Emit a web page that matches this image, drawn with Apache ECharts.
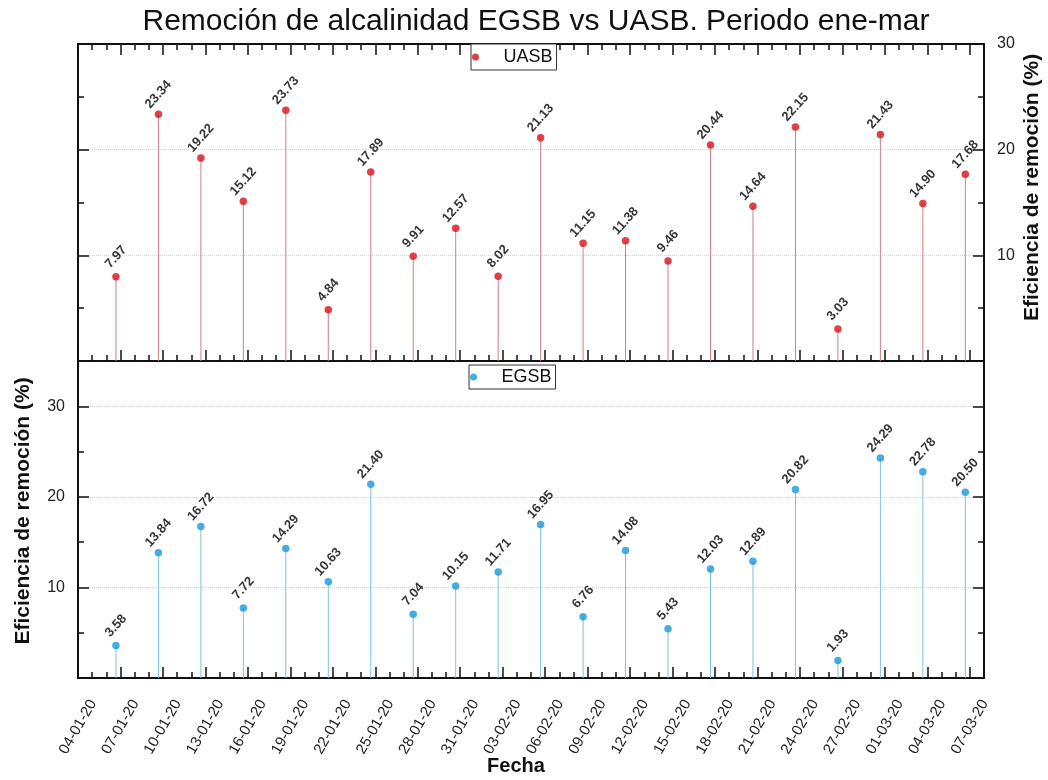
<!DOCTYPE html>
<html>
<head>
<meta charset="utf-8">
<title>Remoción de alcalinidad EGSB vs UASB</title>
<script src="https://cdn.jsdelivr.net/npm/echarts@6.0.0/dist/echarts.min.js"></script>
<style>
  html, body { margin: 0; padding: 0; background: #fff; }
  #main { width: 1048px; height: 780px; }
</style>
</head>
<body>
<div id="main"></div>
<script>
  // fechas de muestreo (hora aproximada), una muestra cada 3 dias
  const fechas = [
    '2020-01-06T16:20', '2020-01-09T16:20', '2020-01-12T16:20', '2020-01-15T16:20',
    '2020-01-18T16:20', '2020-01-21T16:20', '2020-01-24T16:20', '2020-01-27T16:20',
    '2020-01-30T16:20', '2020-02-02T16:20', '2020-02-05T16:20', '2020-02-08T16:20',
    '2020-02-11T16:20', '2020-02-14T16:20', '2020-02-17T16:20', '2020-02-20T16:20',
    '2020-02-23T16:20', '2020-02-26T16:20', '2020-02-29T16:20', '2020-03-03T16:20',
    '2020-03-06T16:20'
  ];
  // eficiencia de remocion (%)
  const uasb = [7.97, 23.34, 19.22, 15.12, 23.73, 4.84, 17.89, 9.91, 12.57, 8.02, 21.13,
                11.15, 11.38, 9.46, 20.44, 14.64, 22.15, 3.03, 21.43, 14.90, 17.68];
  const egsb = [3.58, 13.84, 16.72, 7.72, 14.29, 10.63, 21.40, 7.04, 10.15, 11.71, 16.95,
                6.76, 14.08, 5.43, 12.03, 12.89, 20.82, 1.93, 24.29, 22.78, 20.50];
  // eje x: dias desde el 04-01-20
  const inicio = '2020-01-04T00:00';
  const diasEje = 64;
  const ticksY = [10, 20, 30];
  const ticksYmenor = [5, 15, 25];

  const DIA = 86400000;
  const t0 = new Date(inicio).getTime();
  function dia(f) { return (new Date(f).getTime() - t0) / DIA; }
  function etiquetaFecha(v) {
    const d = new Date(t0 + Math.round(v) * DIA);
    const dd = String(d.getDate()).padStart(2, '0');
    const mm = String(d.getMonth() + 1).padStart(2, '0');
    return dd + '-' + mm + '-' + String(d.getFullYear()).slice(2);
  }

  const majorX = [], minorX = [];
  for (let i = 0; i <= diasEje; i++) {
    if (i % 3 === 0) majorX.push(i); else if (i < 63) minorX.push(i);
  }

  const font = 'Liberation Sans, Arial, sans-serif';
  const negro = '#111';

  function ejeX(grid, pos, menor, extra) {
    return Object.assign({
      type: 'value', gridIndex: grid, position: pos, min: 0, max: diasEje,
      axisLine: { show: !menor, onZero: false, lineStyle: { color: negro, width: 2 } },
      axisTick: { show: true, inside: true, length: menor ? 6 : 11,
        customValues: menor ? minorX : majorX, lineStyle: { color: negro, width: 1.5 } },
      axisLabel: { show: false },
      splitLine: { show: false }
    }, extra || {});
  }
  function ejeY(grid, pos, max, menor, extra) {
    return Object.assign({
      type: 'value', gridIndex: grid, position: pos, min: 0, max: max, interval: 10,
      axisLine: { show: !menor, onZero: false, lineStyle: { color: negro, width: 2 } },
      axisTick: { show: true, inside: true, length: menor ? 6 : 11,
        customValues: menor ? ticksYmenor : ticksY, lineStyle: { color: negro, width: 1.5 } },
      axisLabel: { show: false },
      splitLine: { show: false }
    }, extra || {});
  }

  const etiquetaY = {
    show: true, customValues: ticksY, fontSize: 16, color: '#222', fontFamily: font, margin: 13
  };
  const nombreY = 'Eficiencia de remoción (%)';
  const lineasY = { show: true, lineStyle: { color: '#d4d4d4', type: 'dotted', width: 1 } };

  const ptsU = fechas.map((f, i) => [dia(f), uasb[i]]);
  const ptsE = fechas.map((f, i) => [dia(f), egsb[i]]);

  function etiquetaPunto() {
    return {
      show: true, position: 'top', distance: 16, rotate: 48,
      align: 'center', verticalAlign: 'middle',
      fontSize: 13, fontWeight: 'bold', color: '#000', fontFamily: font,
      formatter: p => p.value[1].toFixed(2)
    };
  }

  const chart = echarts.init(document.getElementById('main'), null, { renderer: 'canvas' });
  chart.setOption({
    backgroundColor: '#fff',
    animation: false,
    textStyle: { fontFamily: font },
    title: {
      text: 'Remoción de alcalinidad EGSB vs UASB. Periodo ene-mar',
      left: 531, top: 2, textAlign: 'center',
      textStyle: { fontSize: 30, fontWeight: 'normal', color: negro, fontFamily: font }
    },
    legend: [
      {
        data: ['UASB'], left: 471, top: 44, icon: 'circle', itemWidth: 46, itemHeight: 7,
        padding: [4, 4, 4, 1], borderColor: '#333', borderWidth: 1, backgroundColor: '#fff',
        textStyle: { fontSize: 18, color: negro, fontFamily: font }
      },
      {
        data: ['EGSB'], left: 469, top: 365, icon: 'circle', itemWidth: 46, itemHeight: 7,
        padding: [3, 4, 3, 1], borderColor: '#333', borderWidth: 1, backgroundColor: '#fff',
        textStyle: { fontSize: 18, color: negro, fontFamily: font }
      }
    ],
    grid: [
      { left: 78, right: 64, top: 44, height: 317, outerBoundsMode: 'none' },
      { left: 78, right: 64, top: 361, height: 317, outerBoundsMode: 'none' }
    ],
    xAxis: [
      ejeX(0, 'bottom', false),
      ejeX(0, 'bottom', true),
      ejeX(0, 'top', false),
      ejeX(0, 'top', true),
      ejeX(1, 'bottom', false, {
        name: 'Fecha', nameLocation: 'middle', nameGap: 78, nameMoveOverlap: false,
        nameTextStyle: { fontSize: 20, fontWeight: 'bold', color: negro, fontFamily: font, padding: [0, 30, 0, 0] },
        axisLabel: {
          show: true, customValues: majorX.filter(v => v <= 63), rotate: 60,
          align: 'center', verticalAlign: 'middle', margin: 49,
          fontSize: 15, color: '#222', fontFamily: font,
          formatter: v => etiquetaFecha(v)
        }
      }),
      ejeX(1, 'bottom', true)
    ],
    yAxis: [
      ejeY(0, 'left', 30, false, { splitLine: lineasY }),
      ejeY(0, 'left', 30, true),
      ejeY(0, 'right', 30, false, {
        axisLabel: etiquetaY,
        name: nombreY, nameLocation: 'middle', nameRotate: 90, nameGap: 38, nameMoveOverlap: false,
        nameTextStyle: { fontSize: 21, fontWeight: 'bold', color: negro, fontFamily: font, padding: [0, 0, 0, 30] }
      }),
      ejeY(0, 'right', 30, true),
      ejeY(1, 'left', 35, false, {
        splitLine: lineasY,
        axisLabel: etiquetaY,
        name: nombreY, nameLocation: 'middle', nameRotate: 90, nameGap: 44, nameMoveOverlap: false,
        nameTextStyle: { fontSize: 21, fontWeight: 'bold', color: negro, fontFamily: font, padding: [0, 0, 0, 17] }
      }),
      ejeY(1, 'left', 35, true),
      ejeY(1, 'right', 35, false),
      ejeY(1, 'right', 35, true)
    ],
    series: [
      {
        type: 'bar', xAxisIndex: 0, yAxisIndex: 0, barWidth: 1, data: ptsU,
        itemStyle: { color: '#cf8080' }, silent: true, z: 1
      },
      {
        name: 'UASB', type: 'scatter', xAxisIndex: 0, yAxisIndex: 0, data: ptsU,
        symbol: 'circle', symbolSize: 7.5, itemStyle: { color: '#d8121b' },
        label: etiquetaPunto(), z: 3
      },
      {
        type: 'bar', xAxisIndex: 4, yAxisIndex: 4, barWidth: 1, data: ptsE,
        itemStyle: { color: '#80bfe0' }, silent: true, z: 1
      },
      {
        name: 'EGSB', type: 'scatter', xAxisIndex: 4, yAxisIndex: 4, data: ptsE,
        symbol: 'circle', symbolSize: 7.5, itemStyle: { color: '#1a98d8' },
        label: etiquetaPunto(), z: 3
      }
    ]
  });
</script>
</body>
</html>
